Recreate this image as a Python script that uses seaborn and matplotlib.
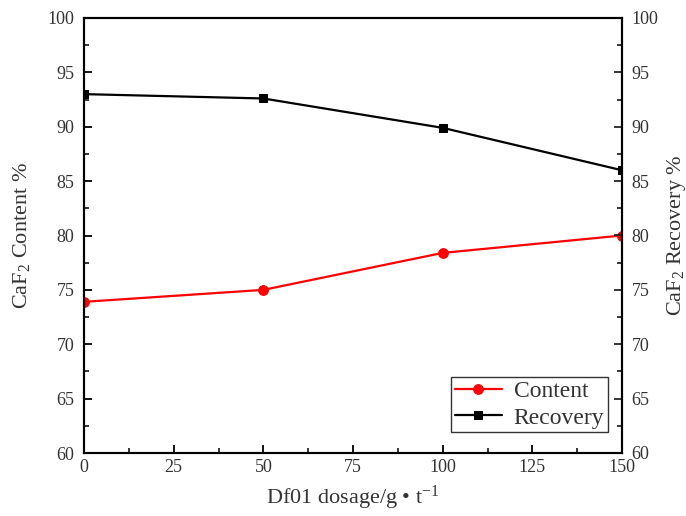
import matplotlib
matplotlib.use("Agg")
import matplotlib.pyplot as plt
import seaborn as sns
import pandas as pd
from matplotlib.ticker import MultipleLocator

dosage = [0, 50, 100, 150]
content = [73.9, 75.0, 78.4, 80.0]
recovery = [93.0, 92.6, 89.9, 86.0]

sns.set_style("ticks")
plt.rcParams['font.family'] = ['Liberation Serif', 'DejaVu Serif']
plt.rcParams['mathtext.fontset'] = 'custom'
plt.rcParams['mathtext.rm'] = 'Liberation Serif'
plt.rcParams['mathtext.it'] = 'Liberation Serif'

df = pd.DataFrame({"dosage": dosage, "Content": content, "Recovery": recovery})

fig = plt.figure(figsize=(6.86, 5.16), dpi=100)
ax = fig.add_axes([84/686, 1-453/516, (622-84)/686, (453-18)/516])
sns.lineplot(data=df, x="dosage", y="Content", ax=ax, color="red", marker="o",
             markersize=7, markeredgecolor="red", linewidth=1.6, label="Content", legend=False)
ax2 = ax.twinx()
sns.lineplot(data=df, x="dosage", y="Recovery", ax=ax2, color="black", marker="s",
             markersize=6, markeredgecolor="black", linewidth=1.6, label="Recovery", legend=False)

for a in (ax, ax2):
    a.set_ylim(60, 100)
    a.set_xlim(0, 150)
    a.yaxis.set_major_locator(MultipleLocator(5))
    a.yaxis.set_minor_locator(MultipleLocator(2.5))
    for s in a.spines.values():
        s.set_linewidth(1.5)
        s.set_color("black")
ax.xaxis.set_major_locator(MultipleLocator(25))
ax.xaxis.set_minor_locator(MultipleLocator(12.5))
ax.tick_params(axis="both", which="major", direction="in", length=6, width=1.3, labelsize=13, colors="black", labelcolor="#333333")
ax.tick_params(axis="both", which="minor", direction="in", length=3.5, width=1.3)
ax.tick_params(axis="x", which="major", pad=4)
ax.tick_params(axis="y", which="major", pad=7)
ax2.tick_params(axis="y", which="major", direction="in", length=6, width=1.3, labelsize=13, labelcolor="#333333", pad=7)
ax2.tick_params(axis="y", which="minor", direction="in", length=3.5, width=1.3)
ax.xaxis.set_ticks_position("bottom")

ax.set_xlabel("Df01 dosage/g \u2022 t$^{-1}$", fontsize=16, color="#333333", labelpad=6)
ax.set_ylabel("CaF$_2$ Content %", fontsize=16, color="#333333", rotation=90, va="center", ha="center")
ax.yaxis.set_label_coords((22 - 84) / 538, 0.5)
ax2.set_ylabel("CaF$_2$ Recovery %", fontsize=16, color="#333333", rotation=90, va="center", ha="center")
ax2.yaxis.set_label_coords((676 - 84) / 538, 0.5)

h1, l1 = ax.get_legend_handles_labels()
h2, l2 = ax2.get_legend_handles_labels()
leg = ax2.legend(h1 + h2, l1 + l2, loc="lower right", bbox_to_anchor=(0.974, 0.048),
                 fontsize=17, frameon=True, fancybox=False, edgecolor="black",
                 borderpad=0.15, handlelength=2.0, handletextpad=0.5,
                 labelspacing=0.2, borderaxespad=0)
leg.get_frame().set_linewidth(1.0)
for t in leg.get_texts():
    t.set_color("#333333")

fig.savefig("out.png", dpi=100)
